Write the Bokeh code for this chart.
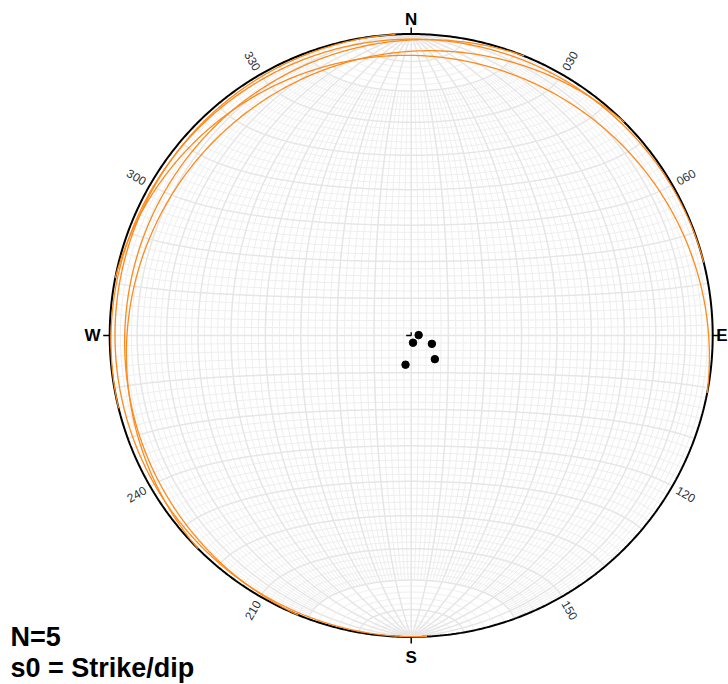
import numpy as np
from bokeh.plotting import figure
from bokeh.models import Range1d
from bokeh.core.properties import value
from bokeh.embed import file_html
from bokeh.resources import INLINE

# ---- data: planes (strike / dip, right-hand rule) ----
strike = [177, 256, 202, 225, 281]
dip = [2, 2, 6, 9, 8]

cardinal_labels = ["N", "E", "S", "W"]
cardinal_az = [0, 90, 180, 270]
degree_labels = ["030", "060", "120", "150", "210", "240", "300", "330"]
degree_az = [30, 60, 120, 150, 210, 240, 300, 330]

# ---- geometry helpers (lower-hemisphere equal-area) ----
def proj_vec(n, e, d):
    trend = np.arctan2(e, n)
    plunge = np.arcsin(np.clip(d, -1, 1))
    r = np.sqrt(2) * np.sin((np.pi / 2 - plunge) / 2)
    return r * np.sin(trend), r * np.cos(trend)

def great_circle(s_deg, d_deg, lam_lo=0.0, lam_hi=180.0, n=181):
    s = np.radians(s_deg); d = np.radians(d_deg)
    lam = np.radians(np.linspace(lam_lo, lam_hi, n))
    sv = np.array([np.cos(s), np.sin(s), 0.0])
    dd = s + np.pi / 2
    dv = np.array([np.cos(d) * np.cos(dd), np.cos(d) * np.sin(dd), np.sin(d)])
    v = np.outer(np.cos(lam), sv) + np.outer(np.sin(lam), dv)
    return proj_vec(v[:, 0], v[:, 1], v[:, 2])

def small_circle(theta_deg, n=181):
    t = np.radians(theta_deg)
    phi = np.radians(np.linspace(0, 180, n))
    return proj_vec(np.full_like(phi, np.cos(t)), np.sin(t) * np.cos(phi), np.sin(t) * np.sin(phi))

# ---- figure (1 data unit = R pixels) ----
R = 301.5
cx, cy = 410.7, 335.0
W, H = 728, 684
p = figure(width=W, height=H, output_backend="svg", toolbar_location=None,
           x_axis_type=None, y_axis_type=None, min_border=0)
p.x_range = Range1d(-cx / R, (W - cx) / R)
p.y_range = Range1d(-(H - cy) / R, cy / R)
p.outline_line_color = None
p.background_fill_color = "white"

# ---- net grid ----
minor_xs, minor_ys, major_xs, major_ys = [], [], [], []
for dd in range(2, 90, 2):
    for s in (0, 180):
        if dd % 10 == 0:
            x, y = great_circle(s, dd)
            major_xs.append(x); major_ys.append(y)
        else:
            x, y = great_circle(s, dd, 20, 160)
            minor_xs.append(x); minor_ys.append(y)
major_xs.append(np.array([0.0, 0.0])); major_ys.append(np.array([-1.0, 1.0]))
for th in range(2, 180, 2):
    x, y = small_circle(th)
    if th % 10 == 0:
        major_xs.append(x); major_ys.append(y)
    else:
        minor_xs.append(x); minor_ys.append(y)

p.multi_line([list(a) for a in minor_xs], [list(a) for a in minor_ys],
             line_color="#eeeeee", line_width=1.0)
p.multi_line([list(a) for a in major_xs], [list(a) for a in major_ys],
             line_color="#e6e6e6", line_width=1.5)

# ---- primitive & ticks ----
a = np.linspace(0, 2 * np.pi, 721)
p.line(np.sin(a), np.cos(a), line_color="black", line_width=2)
tl = 6.5 / R
for az in cardinal_az:
    t = np.radians(az)
    p.line([np.sin(t), (1 + tl) * np.sin(t)], [np.cos(t), (1 + tl) * np.cos(t)],
           line_color="black", line_width=1.5)

# center mark
m = 5 / R
p.line([-m, 0, 0], [0, 0, 3.3 / R], line_color="black", line_width=1.3)

# ---- planes ----
gx, gy = [], []
for s, d in zip(strike, dip):
    x, y = great_circle(s, d, 0, 180, 361)
    gx.append(list(x)); gy.append(list(y))
p.multi_line(gx, gy, line_color="#ff8a1c", line_width=1.3)

# ---- poles ----
px, py = [], []
for s, d in zip(strike, dip):
    tr = np.radians(s + 90 + 180)
    pl = np.radians(90 - d)
    x, y = proj_vec(np.cos(pl) * np.cos(tr), np.cos(pl) * np.sin(tr), np.sin(pl))
    px.append(float(x)); py.append(float(y))
p.scatter(px, py, size=7.5, marker="circle", fill_color="black", line_color="black")

# ---- labels ----
card_r = {"N": 1.047, "S": 1.068, "W": 1.057}
for lab, az in zip(cardinal_labels, cardinal_az):
    t = np.radians(az)
    if lab == "E":
        p.text([(W - 1 - cx) / R], [0], text=[lab],
               text_font=value("Liberation Sans"), text_font_style="bold",
               text_font_size="17px", text_align="right", text_baseline="middle",
               text_color="black")
        continue
    rr = card_r[lab]
    p.text([rr * np.sin(t)], [rr * np.cos(t)], text=[lab],
           text_font=value("Liberation Sans"), text_font_style="bold",
           text_font_size="17px", text_align="center", text_baseline="middle",
           text_color="black")

for lab, az in zip(degree_labels, degree_az):
    t = np.radians(az)
    ang = 90 - az
    while ang > 90:
        ang -= 180
    while ang <= -90:
        ang += 180
    rr = 1.052
    p.text([rr * np.sin(t)], [rr * np.cos(t)], text=[lab], angle=[np.radians(ang)],
           text_font=value("Liberation Sans"), text_font_size="12px",
           text_align="center", text_baseline="middle", text_color="#2a2f3a")

p.text([(10 - cx) / R], [(cy - 621) / R], text=["N=%d" % len(strike)],
       text_font=value("Liberation Sans"), text_font_style="bold",
       text_font_size="27px", text_align="left", text_baseline="top",
       text_color="black")
p.text([(10 - cx) / R], [(cy - 652) / R], text=["s0 = Strike/dip"],
       text_font=value("Liberation Sans"), text_font_style="bold",
       text_font_size="27px", text_align="left", text_baseline="top",
       text_color="black")

open("out.html", "w").write(file_html(p, INLINE))
